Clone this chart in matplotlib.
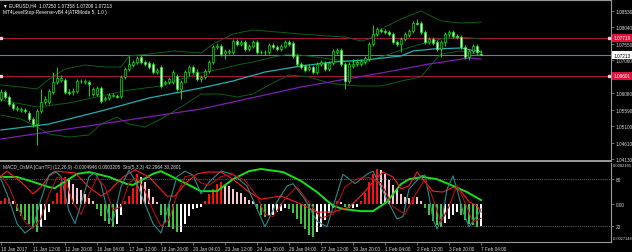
import matplotlib
matplotlib.use('Agg')
import matplotlib.pyplot as plt
import matplotlib.transforms as mtransforms
import numpy as np

plt.rcParams['font.family'] = ['Liberation Sans', 'DejaVu Sans']

# EURUSD H4 candles, one per 4h bar (bar 0 = 10 Jan 04:00, bar 120 = 7 Feb 04:00)
opens = [1.05907, 1.06115, 1.05966, 1.05758, 1.05610, 1.05580, 1.05580, 1.05491, 1.05313, 1.05164,
         1.05551, 1.05818, 1.05818, 1.06115, 1.06412, 1.06471, 1.06471, 1.06115, 1.06115, 1.06145,
         1.06427, 1.06412, 1.06412, 1.06055, 1.06055, 1.06234, 1.05907, 1.05937, 1.06011, 1.05996,
         1.05996, 1.06560, 1.06798, 1.06917, 1.07006, 1.07154, 1.07006, 1.06976, 1.06946, 1.06709,
         1.06857, 1.06382, 1.06412, 1.06412, 1.06590, 1.06204, 1.06412, 1.06709, 1.06857, 1.06709,
         1.06501, 1.06560, 1.06739, 1.07006, 1.07451, 1.07481, 1.07273, 1.07303, 1.07303, 1.07630,
         1.07540, 1.07600, 1.07392, 1.07481, 1.07600, 1.07303, 1.07288, 1.07303, 1.07511, 1.07451,
         1.07392, 1.07481, 1.07600, 1.07570, 1.07184, 1.06946, 1.06887, 1.06798, 1.06857, 1.06709,
         1.06946, 1.06976, 1.06798, 1.06976, 1.07303, 1.07362, 1.06946, 1.06442, 1.06887, 1.06946,
         1.06946, 1.07006, 1.07095, 1.07540, 1.07837, 1.07956, 1.07927, 1.07897, 1.07837, 1.07600,
         1.07540, 1.07689, 1.07808, 1.07927, 1.08164, 1.08164, 1.07897, 1.07600, 1.07689, 1.07600,
         1.07392, 1.07600, 1.07837, 1.07897, 1.07778, 1.07748, 1.07451, 1.07154, 1.07333, 1.07481,
         1.07250]
highs = [1.06204, 1.06174, 1.06026, 1.05818, 1.05699, 1.05669, 1.05640, 1.05551, 1.05372, 1.05610,
         1.06204, 1.05996, 1.06204, 1.06709, 1.06857, 1.06620, 1.06531, 1.06204, 1.06234, 1.06501,
         1.06501, 1.06501, 1.06471, 1.06263, 1.06293, 1.06293, 1.05996, 1.06085, 1.06085, 1.06055,
         1.06620, 1.06857, 1.07184, 1.07065, 1.07184, 1.07214, 1.07065, 1.07036, 1.07006, 1.06828,
         1.06917, 1.06471, 1.06560, 1.06768, 1.06649, 1.06471, 1.06768, 1.06917, 1.06917, 1.06798,
         1.06620, 1.06798, 1.07065, 1.07511, 1.07570, 1.07540, 1.07392, 1.07392, 1.07689, 1.07689,
         1.07659, 1.07659, 1.07540, 1.07659, 1.07659, 1.07362, 1.07362, 1.07570, 1.07570, 1.07511,
         1.07540, 1.07659, 1.07659, 1.07630, 1.07243, 1.07006, 1.06946, 1.06946, 1.06917, 1.07006,
         1.07065, 1.07036, 1.07036, 1.07392, 1.07422, 1.07422, 1.07006, 1.07006, 1.07095, 1.07095,
         1.07095, 1.07184, 1.07600, 1.08105, 1.08045, 1.08016, 1.07986, 1.07956, 1.07897, 1.07659,
         1.07748, 1.07897, 1.07986, 1.08224, 1.08283, 1.08224, 1.07956, 1.07748, 1.07748, 1.07659,
         1.07659, 1.07897, 1.07956, 1.07956, 1.07837, 1.07808, 1.07511, 1.07392, 1.07540, 1.07540,
         1.07358]
lows = [1.05848, 1.05907, 1.05699, 1.05580, 1.05551, 1.05521, 1.05491, 1.05254, 1.05075, 1.04541,
        1.05491, 1.05758, 1.05758, 1.06055, 1.06352, 1.06412, 1.06055, 1.06026, 1.06026, 1.06085,
        1.06382, 1.06352, 1.05996, 1.05996, 1.05996, 1.05788, 1.05848, 1.05877, 1.05966, 1.05937,
        1.05937, 1.06501, 1.06739, 1.06857, 1.06946, 1.06946, 1.06887, 1.06798, 1.06649, 1.06649,
        1.06234, 1.06323, 1.06352, 1.06352, 1.06145, 1.05907, 1.06531, 1.06590, 1.06649, 1.06442,
        1.06412, 1.06501, 1.06679, 1.06946, 1.07392, 1.07184, 1.07095, 1.07243, 1.07243, 1.07481,
        1.07481, 1.07333, 1.07333, 1.07422, 1.07243, 1.07243, 1.07214, 1.07243, 1.07392, 1.07333,
        1.07333, 1.07422, 1.07481, 1.07125, 1.06887, 1.06798, 1.06709, 1.06739, 1.06649, 1.06649,
        1.06887, 1.06739, 1.06739, 1.06917, 1.07243, 1.06887, 1.06204, 1.06382, 1.06828, 1.06887,
        1.06887, 1.06946, 1.07036, 1.07481, 1.07778, 1.07867, 1.07837, 1.07778, 1.07540, 1.07481,
        1.07303, 1.07630, 1.07748, 1.07867, 1.08105, 1.07837, 1.07540, 1.07540, 1.07511, 1.07333,
        1.07154, 1.07481, 1.07748, 1.07719, 1.07689, 1.07392, 1.07095, 1.07065, 1.07273, 1.07243,
        1.07209]
closes = [1.06115, 1.05966, 1.05758, 1.05640, 1.05640, 1.05610, 1.05551, 1.05313, 1.05164, 1.05551,
          1.05818, 1.05907, 1.06145, 1.06412, 1.06531, 1.06531, 1.06115, 1.06085, 1.06145, 1.06442,
          1.06442, 1.06442, 1.06352, 1.06204, 1.06234, 1.05848, 1.05937, 1.06026, 1.06026, 1.05981,
          1.06560, 1.06798, 1.06946, 1.07006, 1.07125, 1.07006, 1.06946, 1.06857, 1.06709, 1.06768,
          1.06293, 1.06412, 1.06501, 1.06709, 1.06204, 1.06412, 1.06709, 1.06857, 1.06709, 1.06501,
          1.06560, 1.06739, 1.07006, 1.07451, 1.07481, 1.07243, 1.07333, 1.07333, 1.07630, 1.07540,
          1.07600, 1.07392, 1.07481, 1.07600, 1.07303, 1.07288, 1.07303, 1.07511, 1.07451, 1.07392,
          1.07481, 1.07600, 1.07540, 1.07184, 1.06946, 1.06857, 1.06768, 1.06857, 1.06709, 1.06946,
          1.07006, 1.06798, 1.06976, 1.07333, 1.07362, 1.06946, 1.06442, 1.06946, 1.06946, 1.07006,
          1.07036, 1.07125, 1.07540, 1.07837, 1.07986, 1.07927, 1.07897, 1.07837, 1.07600, 1.07540,
          1.07689, 1.07837, 1.07927, 1.08164, 1.08149, 1.07897, 1.07600, 1.07689, 1.07570, 1.07392,
          1.07600, 1.07837, 1.07897, 1.07778, 1.07748, 1.07451, 1.07154, 1.07333, 1.07481, 1.07303,
          1.07213]

# envelope (dark green) read at a few bars
upper_x = [0, 5, 9, 12, 16, 21, 26, 30, 32, 37, 43, 50, 53, 58, 63, 66, 69, 75, 82, 86, 90, 92, 96, 100, 105, 110, 115, 120]
upper_y = [1.06323, 1.06263, 1.06204, 1.06501, 1.06798, 1.06917, 1.06857, 1.06857, 1.07184, 1.07243,
           1.07333, 1.07273, 1.07540, 1.07837, 1.07956, 1.07927, 1.07897, 1.07837, 1.07778, 1.07748,
           1.07630, 1.07689, 1.08045, 1.08283, 1.08521, 1.08224, 1.08164, 1.08194]
mid_x = [0, 9, 17, 25, 32, 40, 45, 50, 55, 59, 63, 67, 72, 77, 82, 86, 90, 95, 100, 105, 110, 115, 120]
mid_y = [1.05877, 1.05669, 1.05788, 1.05996, 1.06174, 1.06293, 1.06501, 1.06679, 1.06798, 1.06917,
         1.07006, 1.07125, 1.07243, 1.07184, 1.07095, 1.07036, 1.06976, 1.07154, 1.07362, 1.07540,
         1.07689, 1.07748, 1.07689]
lower_x = [0, 5, 9, 12, 17, 22, 25, 29, 32, 36, 40, 45, 50, 55, 59, 63, 67, 72, 77, 82, 86, 90, 95, 100, 105, 107, 110, 115, 120]
lower_y = [1.05432, 1.05313, 1.05075, 1.04867, 1.04778, 1.04838, 1.05164, 1.05372, 1.05164, 1.05075,
           1.05313, 1.05669, 1.06055, 1.06055, 1.05966, 1.06055, 1.06323, 1.06620, 1.06560, 1.06382,
           1.06323, 1.06293, 1.06293, 1.06442, 1.06560, 1.06857, 1.07243, 1.07333, 1.07214]

# moving averages
fast_ma_x = [0, 12, 25, 37, 50, 58, 66, 75, 83, 91, 100, 103, 108, 115, 120]
fast_ma_y = [1.04986, 1.05164, 1.05551, 1.05937, 1.06234, 1.06442, 1.06709, 1.06887, 1.07006, 1.07065,
             1.07184, 1.07333, 1.07392, 1.07422, 1.07303]
slow_ma_x = [0, 25, 50, 75, 95, 107, 117, 120]
slow_ma_y = [1.04719, 1.05164, 1.05610, 1.06263, 1.06679, 1.06946, 1.07125, 1.07095]

level_hi = 1.07719
level_lo = 1.06601
bid = 1.07213

price_ticks = [1.08530, 1.08040, 1.07550, 1.07060, 1.06080, 1.05590, 1.05100, 1.04610, 1.04130]

# MACD_OsMA histogram, x1e-4
osma = [0.9, 1.4, 1.4, 0.7, -1.4, -2.5, -3.4, -4.3, -5.4, -6.1,
        -5.0, -3.6, -1.6, 0.9, 2.7, 5.0, 6.1, 5.6, 4.7, 3.8,
        3.2, 2.3, 1.4, 0.7, -1.1, -2.7, -3.8, -4.5, -5.0, -4.3,
        -2.3, 0.7, 2.0, 3.8, 6.8, 6.3, 5.0, 3.4, 1.8, 0.5,
        -2.3, -4.1, -5.0, -5.6, -6.3, -6.1, -4.5, -2.7, -1.1, -0.7,
        -0.5, 0.9, 2.3, 3.6, 4.7, 5.0, 4.5, 4.1, 3.6, 2.9,
        2.5, 1.8, 1.1, 0.7, -1.1, -2.3, -2.9, -2.7, -2.3, -1.8,
        -1.4, -0.9, -1.1, -2.0, -3.2, -4.5, -5.6, -6.8, -7.4, -6.3,
        -5.0, -3.4, -2.0, -0.9, 0.7, 0.5, -0.5, -0.9, -0.7, -0.5,
        0.9, 2.7, 5.0, 6.8, 7.9, 7.7, 6.8, 5.6, 4.5, 3.4,
        2.3, 1.6, 1.4, 1.8, 1.6, 0.7, -0.7, -2.3, -3.8, -4.7,
        -5.0, -4.1, -3.2, -2.3, -1.6, -2.3, -3.6, -4.5, -4.7, -5.0,
        -4.95]

# MACD lines, x1e-4
signal_x = [0, 4, 8, 12, 13.5, 19, 22, 27, 31.5, 33, 38, 40, 46.5, 50, 54, 58, 62, 65, 70.5, 75,
            79, 83, 85.5, 90, 93, 96.5, 100, 102, 105.5, 109, 113, 116.5, 120]
signal_v = [6.2, 6.2, 5.1, 3.9, 3.7, 6.9, 7.3, 6.2, 4.6, 4.4, 6.9, 7.5, 4.6, 3.0, 3.0, 5.7, 7.5, 8.0, 7.3, 5.3,
            2.8, -0.3, -1.0, -1.5, -1.5, 0.6, 4.6, 5.7, 6.2, 5.7, 4.2, 2.8, 1.0]
macd_x = [0, 1.5, 5, 8, 10, 12, 14, 18.5, 22, 25, 27, 30.5, 33.5, 37, 41.5, 43.5, 46.5, 49, 51.5, 55,
          58, 62, 65, 70, 75, 79, 83, 87, 90.5, 93, 95.5, 98, 100, 102, 104, 106, 108, 110.5, 113, 115,
          117, 119, 120]
macd_v = [6.4, 7.5, 5.1, 2.4, 3.9, 6.4, 7.5, 7.1, 3.9, 1.9, 3.0, 6.2, 7.8, 6.2, 1.9, 1.9, 5.1, 6.9, 7.3, 7.3,
          5.7, 2.8, 1.2, 1.9, 0.1, -1.7, -1.7, -0.6, 2.4, 5.1, 7.3, 6.2, 3.5, 4.2, 7.3, 5.1, 3.0, 2.8, 3.9, 3.0,
          0.6, -0.3, -1.7]

# Stochastic (5,3,3)
sto_x = [0, 2, 4, 6, 8, 10, 12, 13.5, 15, 17, 18.5, 20, 22, 23.5, 25, 27, 28, 30, 32, 34,
         36, 38, 40, 42, 44, 46, 48, 50, 52, 55, 58, 61.5, 64, 66, 69, 71.5, 73, 76, 79, 81.5,
         85.5, 88.5, 91.5, 93, 96.5, 99, 100.5, 102, 105, 106, 107, 108, 109, 110.5, 111.5, 113, 114, 115.5, 117, 119,
         120]
sto_main = [80, 54, 23, 11, 19, 54, 85, 90, 83, 39, 23, 48, 83, 88, 74, 31, 26, 70, 91, 74,
            48, 23, 11, 48, 83, 90, 85, 61, 76, 90, 86, 71, 42, 19, 51, 71, 74, 54, 26, 19,
            86, 74, 86, 90, 54, 29, 32, 67, 84, 85, 58, 29, 16, 35, 67, 84, 67, 38, 19, 33,
            42]
sig_x = [0, 2, 4, 6, 8, 10, 12, 14, 16, 18, 20, 22, 24, 26, 28, 30, 32, 34, 36, 38,
         40, 42, 44, 46, 48, 50, 52, 55, 58, 61, 64, 66, 68, 71, 74, 77, 80, 83, 86, 89,
         92, 95, 98, 101, 103, 106, 108, 110, 112, 114, 116, 118, 120]
sto_signal = [85, 70, 45, 25, 17, 30, 60, 82, 80, 50, 35, 60, 82, 70, 40, 45, 75, 82, 65, 40,
              20, 28, 60, 83, 85, 75, 72, 83, 86, 78, 58, 35, 32, 55, 70, 50, 30, 35, 70, 80,
              82, 75, 45, 35, 55, 80, 55, 25, 45, 72, 50, 25, 30]

date_ticks = [0, 8, 16, 24, 32, 40, 48, 56, 64, 72, 80, 88, 96, 104, 112, 120]
date_labels = ['10 Jan 2017', '11 Jan 12:00', '12 Jan 20:00', '16 Jan 04:00', '17 Jan 12:00',
               '18 Jan 20:00', '20 Jan 04:00', '23 Jan 12:00', '24 Jan 20:00', '26 Jan 04:00',
               '27 Jan 12:00', '30 Jan 20:00', '1 Feb 04:00', '2 Feb 12:00', '3 Feb 20:00', '7 Feb 04:00']

W, H = 632, 253
FS = 3.4
AXC = '#9a9a9a'
TXT = '#d8d8d8'


def rect(x0, y0, x1, y1):
    # pixel box -> figure fraction
    return [x0 / W, 1 - y1 / H, (x1 - x0) / W, (y1 - y0) / H]


fig = plt.figure(figsize=(W / 100, H / 100), dpi=100, facecolor='black')
ax = fig.add_axes(rect(0, 1, 611, 162))
axm = fig.add_axes(rect(0, 164, 611, 243), sharex=ax)
axs = axm.twinx()

for a in (ax, axm):
    a.set_facecolor('black')
for a in (ax, axm, axs):
    for s in a.spines.values():
        s.set_visible(False)
for s in ('right', 'bottom', 'top'):
    ax.spines[s].set_visible(True)
    ax.spines[s].set_color(AXC)
ax.spines['bottom'].set_linewidth(1.4)
ax.spines['top'].set_linewidth(0.8)
ax.spines['right'].set_linewidth(0.8)
for s in ('right', 'bottom'):
    axm.spines[s].set_visible(True)
    axm.spines[s].set_color(AXC)
    axm.spines[s].set_linewidth(0.8)

idx = np.arange(len(closes))
o = np.array(opens)
c = np.array(closes)

# ---- price panel
ax.plot(upper_x, upper_y, color='#0b5f12', lw=0.7, zorder=2)
ax.plot(mid_x, mid_y, color='#0b5f12', lw=0.7, zorder=2)
ax.plot(lower_x, lower_y, color='#0b5f12', lw=0.7, zorder=2)
ax.plot(fast_ma_x, fast_ma_y, color='#22b0b0', lw=0.9, zorder=2)
ax.plot(slow_ma_x, slow_ma_y, color='#7d1fb0', lw=0.9, zorder=2)

for lv in (level_hi, level_lo):
    ax.axhline(lv, color='#a3163c', lw=0.8, zorder=1)
    ax.plot([0.1, 152.0], [lv, lv], ls='none', marker='s', ms=1.6, color='#ffc8d4', zorder=3)
ax.axhline(bid, color='#6f7d8c', lw=0.8, zorder=1)

ax.vlines(idx, lows, highs, color='#00ff00', lw=0.6, zorder=3)
bull = c >= o
body_lo = np.minimum(o, c)
body_h = np.maximum(np.abs(c - o), 0.00012)
ax.bar(idx[bull], body_h[bull], bottom=body_lo[bull], width=0.62,
       color='black', edgecolor='#00ff00', linewidth=0.45, zorder=4)
ax.bar(idx[~bull], body_h[~bull], bottom=body_lo[~bull], width=0.62,
       color='#f4fff4', edgecolor='#00ff00', linewidth=0.45, zorder=4)

ax.set_xlim(-0.25, 152.5)
ax.set_ylim(1.04066, 1.08847)
ax.yaxis.tick_right()
ax.set_yticks(price_ticks)
ax.set_yticklabels(['%.5f' % t for t in price_ticks])
ax.tick_params(axis='y', direction='out', length=2, width=0.5, color=AXC, pad=1.2,
               labelsize=FS, labelcolor=TXT)
ax.tick_params(axis='x', which='both', bottom=False, labelbottom=False)

tr = mtransforms.blended_transform_factory(ax.transAxes, ax.transData)
for lv, fc, tc in ((level_hi, '#e0103c', 'white'), (level_lo, '#e0103c', 'white'), (bid, 'white', 'black')):
    ax.text(1.0045, lv, '%.5f' % lv, transform=tr, fontsize=FS, color=tc, va='center', ha='left',
            bbox=dict(boxstyle='square,pad=0.3', fc=fc, ec='none'), clip_on=False, zorder=10)

fig.text(3 / W, 1 - 5.5 / H, '\u25bc EURUSD,H4  1.07250 1.07358 1.07209 1.07213',
         fontsize=FS, color='white', va='center', ha='left')
fig.text(3 / W, 1 - 12.5 / H, 'MT4LevelStop-Reverse-vB4.4(ATRMode 5, 1.0 )',
         fontsize=FS, color='white', va='center', ha='left')

# ---- MACD / stochastic panel
h = np.array(osma)
prev = np.concatenate([[h[0]], h[:-1]])
cols = []
for v, p in zip(h, prev):
    if v >= 0:
        cols.append('#ff1010' if v >= p else '#f6c6cc')
    else:
        cols.append('#3fc43f' if v <= p else '#ffffff')
axm.bar(idx, h * 1e-4, width=0.45, color=cols, linewidth=0, zorder=2)
axm.plot(signal_x, np.array(signal_v) * 1e-4, color='#19e019', lw=1.4, zorder=3)
axm.plot(macd_x, np.array(macd_v) * 1e-4, color='#ff1a1a', lw=0.8, zorder=3)
axm.set_ylim(-8.44e-4, 9.34e-4)
axm.yaxis.tick_right()
axm.set_yticks([0])
axm.set_yticklabels(['0.00'])
axm.tick_params(axis='y', direction='out', length=2, width=0.5, color=AXC, pad=1.2,
                labelsize=FS, labelcolor=TXT)

axs.axhline(80, color='#8a8a8a', lw=0.5, ls=(0, (1.5, 1.5)))
axs.axhline(20, color='#8a8a8a', lw=0.5, ls=(0, (1.5, 1.5)))
axs.plot(sto_x, sto_main, color='#2b8c8c', lw=0.8, zorder=3)
axs.plot(sig_x, sto_signal, color='#b01010', lw=0.8, zorder=3)
axs.set_ylim(-0.4, 100.4)
axs.set_yticks([20, 80])
axs.set_yticklabels(['20', '80'])
axs.tick_params(axis='y', direction='out', length=2, width=0.5, color=AXC, pad=1.2,
                labelsize=FS, labelcolor=TXT)

axm.set_xticks(date_ticks)
axm.set_xticklabels(date_labels)
axm.tick_params(axis='x', direction='out', length=2, width=0.5, color=AXC, pad=1.0,
                labelsize=FS, labelcolor=TXT)
for lbl in axm.get_xticklabels():
    lbl.set_ha('left')

fig.text(3 / W, 1 - 167.5 / H,
         'MACD_OsMA [CurrTF] (12,26,9) -0.0004946 0.0003205  Sto(5,3,3) 42.2964 30.2801',
         fontsize=FS, color=TXT, va='center', ha='left')
# panel max / min labels, squeezed to fit the right margin
fig.text(612.5 / W, 1 - 166.5 / H, '0.0082165', fontsize=3.0, color=TXT, va='center', ha='left')
fig.text(612.5 / W, 1 - 239.5 / H, '-0.0027148', fontsize=2.8, color=TXT, va='center', ha='left')

fig.savefig('out.png', dpi=100, facecolor='black')
